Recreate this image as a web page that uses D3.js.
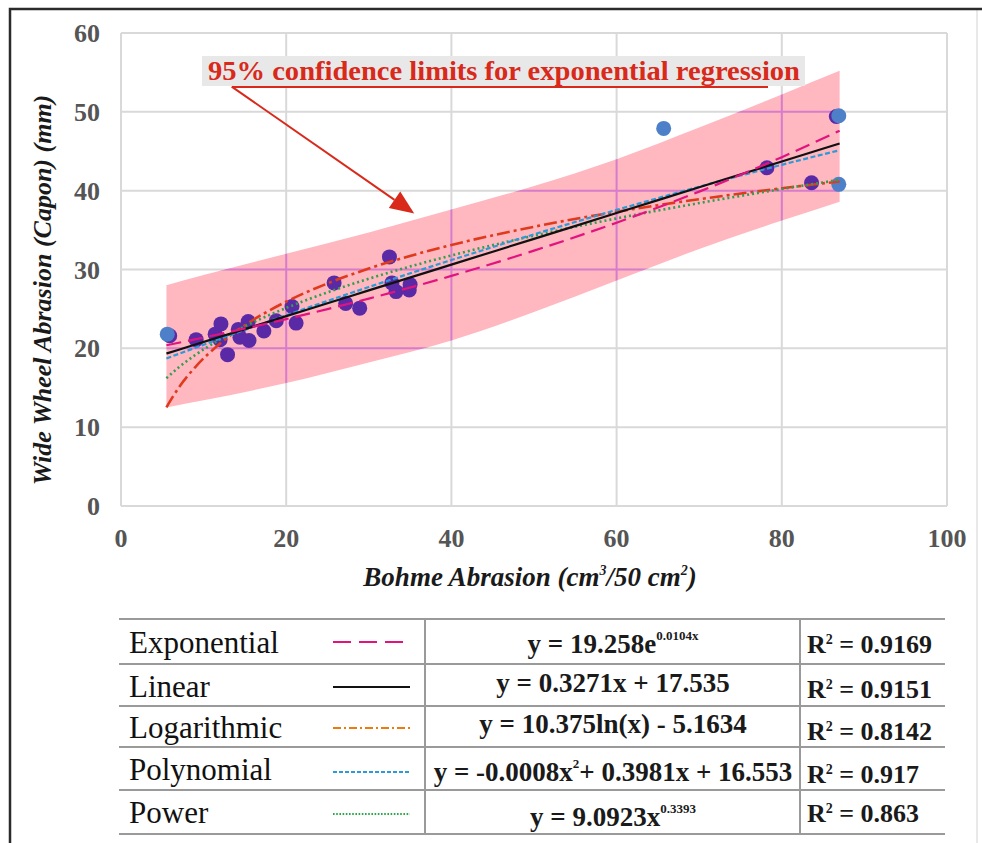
<!DOCTYPE html>
<html>
<head>
<meta charset="utf-8">
<script src="https://cdn.jsdelivr.net/npm/d3@7"></script>
<style>
  html, body { margin: 0; padding: 0; background: #fff; }
  svg { display: block; }
</style>
</head>
<body>
<div id="chart"></div>
<script>
// ---- data ----
var xTicks = [0, 20, 40, 60, 80, 100];
var yTicks = [0, 10, 20, 30, 40, 50, 60];

// measured points (purple series)
var purpleX = [5.9, 9.1, 11.4, 12.1, 12.0, 12.9, 14.2, 14.4, 15.4, 15.5, 17.3, 18.8, 20.7, 21.2, 25.8, 27.2, 28.9, 32.5, 32.8, 33.3, 34.9, 35.0, 78.2, 83.6, 86.6];
var purpleY = [21.6, 21.1, 21.8, 23.1, 21.1, 19.2, 22.4, 21.4, 23.4, 21.0, 22.2, 23.5, 25.3, 23.2, 28.3, 25.7, 25.1, 31.6, 28.3, 27.2, 27.4, 28.1, 42.9, 41.0, 49.4];
// blue points
var blueX = [5.6, 65.7, 86.9, 86.9];
var blueY = [21.8, 47.9, 49.5, 40.8];

// 95% confidence band (exponential regression)
var bandX     = [5.5, 10, 20, 30, 40, 50, 60, 70, 80, 87];
var bandUpper = [28.0, 29.3, 32.0, 34.7, 37.6, 40.6, 44.0, 48.0, 52.2, 55.2];
var bandLower = [12.5, 13.4, 15.6, 18.2, 21.0, 24.6, 28.6, 32.6, 36.2, 38.6];

// trend lines, values
var trendX = [5.5, 7, 9, 12, 15, 20, 25, 30, 40, 50, 60, 70, 80, 87];
var expY  = [20.39, 20.71, 21.15, 21.82, 22.51, 23.71, 24.98, 26.31, 29.19, 32.39, 35.94, 39.88, 44.25, 47.60];
var linY  = [19.34, 19.82, 20.48, 21.46, 22.44, 24.08, 25.71, 27.35, 30.62, 33.89, 37.16, 40.43, 43.70, 45.99];
var logY  = [12.52, 15.03, 17.63, 20.62, 22.93, 25.92, 28.23, 30.12, 33.11, 35.42, 37.32, 38.92, 40.30, 41.17];
var polyY = [18.72, 19.30, 20.07, 21.22, 22.34, 24.20, 26.01, 27.78, 31.20, 34.46, 37.56, 40.50, 43.28, 45.13];
var powY  = [16.21, 17.60, 19.16, 21.13, 22.79, 25.12, 27.10, 28.83, 31.79, 34.29, 36.48, 38.43, 40.21, 41.38];

var trendNames = ['Exponential', 'Linear', 'Logarithmic', 'Polynomial', 'Power'];
var trendEq = [
    [['y = 19.258e', 0], ['0.0104x', 1]],
    [['y = 0.3271x + 17.535', 0]],
    [['y = 10.375ln(x) - 5.1634', 0]],
    [['y = -0.0008x', 0], ['2', 1], ['+ 0.3981x + 16.553', 0]],
    [['y = 9.0923x', 0], ['0.3393', 1]]
];
var trendR2 = ['0.9169', '0.9151', '0.8142', '0.917', '0.863'];

var annotationText = '95% confidence limits for exponential regression';

// ---- drawing ----
var width = 982, height = 843;
var svg = d3.select('#chart').append('svg')
    .attr('width', width)
    .attr('height', height);

svg.append('rect').attr('width', width).attr('height', height).attr('fill', '#fff');

var x = d3.scaleLinear().domain([0, 100]).range([121, 947]);
var y = d3.scaleLinear().domain([0, 60]).range([506, 33]);

var serif = '"Liberation Serif", "Times New Roman", serif';

// outer frame
svg.append('line').attr('x1', 977).attr('y1', 9).attr('x2', 977).attr('y2', height)
    .attr('stroke', '#e2e2e2').attr('stroke-width', 1.5);
svg.append('path').attr('d', 'M10,' + height + ' L10,9 L' + width + ',9')
    .attr('fill', 'none').attr('stroke', '#2b2b2b').attr('stroke-width', 2.5);

// grid
function drawGrid(parent, color) {
    parent.selectAll('line.gx').data(xTicks).enter().append('line')
        .attr('class', 'gx')
        .attr('x1', function(d){ return x(d); }).attr('x2', function(d){ return x(d); })
        .attr('y1', y(0)).attr('y2', y(60))
        .attr('stroke', color).attr('stroke-width', 2);
    parent.selectAll('line.gy').data(yTicks).enter().append('line')
        .attr('class', 'gy')
        .attr('x1', x(0)).attr('x2', x(100))
        .attr('y1', function(d){ return y(d); }).attr('y2', function(d){ return y(d); })
        .attr('stroke', color).attr('stroke-width', 2);
}
drawGrid(svg.append('g'), '#d9d9d9');

// confidence band
var band = bandX.map(function(v, i){ return { x: v, lo: bandLower[i], hi: bandUpper[i] }; });
var area = d3.area()
    .x(function(d){ return x(d.x); })
    .y0(function(d){ return y(d.lo); })
    .y1(function(d){ return y(d.hi); })
    .curve(d3.curveMonotoneX);

svg.append('path').datum(band).attr('d', area).attr('fill', '#ffb7c0');

svg.append('clipPath').attr('id', 'bandclip')
    .append('path').datum(band).attr('d', area);
drawGrid(svg.append('g').attr('clip-path', 'url(#bandclip)'), '#d67ccb');

// axis tick labels
var tickG = svg.append('g')
    .style('font-family', serif).style('font-weight', 'bold')
    .style('font-size', '26px').attr('fill', '#555');

tickG.selectAll('text.yt').data(yTicks).enter().append('text')
    .attr('class', 'yt')
    .attr('x', 100)
    .attr('y', function(d){ return y(d) + 9; })
    .attr('text-anchor', 'end')
    .text(function(d){ return d; });

tickG.selectAll('text.xt').data(xTicks).enter().append('text')
    .attr('class', 'xt')
    .attr('x', function(d){ return x(d); })
    .attr('y', 547)
    .attr('text-anchor', 'middle')
    .text(function(d){ return d; });

// axis titles
svg.append('text')
    .attr('transform', 'translate(51,' + 290 + ') rotate(-90)')
    .attr('text-anchor', 'middle')
    .style('font-family', serif).style('font-weight', 'bold').style('font-style', 'italic')
    .style('font-size', '26px').attr('fill', '#1a1a1a')
    .text('Wide Wheel Abrasion (Capon) (mm)');

var xt = svg.append('text')
    .attr('x', 530).attr('y', 586)
    .attr('text-anchor', 'middle')
    .style('font-family', serif).style('font-weight', 'bold').style('font-style', 'italic')
    .style('font-size', '27px').attr('fill', '#1a1a1a');
xt.append('tspan').text('Bohme Abrasion (cm');
xt.append('tspan').attr('dy', -11).style('font-size', '14px').text('3');
xt.append('tspan').attr('dy', 11).text('/50 cm');
xt.append('tspan').attr('dy', -11).style('font-size', '14px').text('2');
xt.append('tspan').attr('dy', 11).text(')');

// points
svg.selectAll('circle.pp').data(purpleX).enter().append('circle')
    .attr('class', 'pp')
    .attr('cx', function(d){ return x(d); })
    .attr('cy', function(d, i){ return y(purpleY[i]); })
    .attr('r', 7.5)
    .attr('fill', '#5a2aa6');

svg.selectAll('circle.bp').data(blueX).enter().append('circle')
    .attr('class', 'bp')
    .attr('cx', function(d){ return x(d); })
    .attr('cy', function(d, i){ return y(blueY[i]); })
    .attr('r', 7.5)
    .attr('fill', '#4d80c8');

// trend lines
var trends = [
    { vals: expY,  color: '#e2137f', dash: '15,7',     w: 2.2, legColor: '#e2137f', legDash: '18,8' },
    { vals: linY,  color: '#111111', dash: null,       w: 2.2, legColor: '#111111', legDash: null },
    { vals: logY,  color: '#e03a1c', dash: '13,4,3,4', w: 2.6, legColor: '#ec7a10', legDash: '8,3,2,3' },
    { vals: polyY, color: '#2b9ad6', dash: '5,2.5',    w: 2.2, legColor: '#2b9ad6', legDash: '4,2' },
    { vals: powY,  color: '#2f9e4f', dash: '2,3',      w: 2.6, legColor: '#27a844', legDash: '1.6,1.6' }
];

var line = d3.line()
    .x(function(d){ return x(d[0]); })
    .y(function(d){ return y(d[1]); })
    .curve(d3.curveMonotoneX);

// draw order so the solid line sits among the dashed ones
[2, 4, 3, 1, 0].forEach(function(k){
    var t = trends[k];
    svg.append('path')
        .datum(trendX.map(function(v, i){ return [v, t.vals[i]]; }))
        .attr('d', line)
        .attr('fill', 'none')
        .attr('stroke', t.color)
        .attr('stroke-width', t.w)
        .attr('stroke-dasharray', t.dash);
});

// annotation
var ann = svg.append('g');
ann.append('rect')
    .attr('x', 202).attr('y', 56).attr('width', 603).attr('height', 30)
    .attr('fill', '#e8e8e8');
ann.append('text')
    .attr('x', 208).attr('y', 80)
    .attr('textLength', 592).attr('lengthAdjust', 'spacingAndGlyphs')
    .style('font-family', serif).style('font-weight', 'bold').style('font-size', '27px')
    .attr('fill', '#d8291b')
    .text(annotationText);
ann.append('line')
    .attr('x1', 232).attr('y1', 87).attr('x2', 768).attr('y2', 87)
    .attr('stroke', '#d8291b').attr('stroke-width', 2);

var a0 = [x(13.4), y(53.2)], a1 = [x(35.5), y(37.1)];
var ang = Math.atan2(a1[1] - a0[1], a1[0] - a0[0]);
var headLen = 24, headW = 10;
var bx = a1[0] - headLen * Math.cos(ang), by = a1[1] - headLen * Math.sin(ang);
ann.append('line')
    .attr('x1', a0[0]).attr('y1', a0[1]).attr('x2', bx).attr('y2', by)
    .attr('stroke', '#d8291b').attr('stroke-width', 2);
ann.append('path')
    .attr('d', 'M' + a1[0] + ',' + a1[1] +
        ' L' + (bx + headW * Math.sin(ang)) + ',' + (by - headW * Math.cos(ang)) +
        ' L' + (bx - headW * Math.sin(ang)) + ',' + (by + headW * Math.cos(ang)) + ' Z')
    .attr('fill', '#d8291b');

// ---- table ----
var rowLines = [619, 664, 706, 747, 790, 834];
var tbl = svg.append('g');
tbl.selectAll('line.rl').data(rowLines).enter().append('line')
    .attr('class', 'rl')
    .attr('x1', 119).attr('x2', 945)
    .attr('y1', function(d){ return d; }).attr('y2', function(d){ return d; })
    .attr('stroke', '#9a9a9a').attr('stroke-width', 2);
[425, 800].forEach(function(cx){
    tbl.append('line')
        .attr('x1', cx).attr('x2', cx).attr('y1', rowLines[0]).attr('y2', rowLines[5])
        .attr('stroke', '#9a9a9a').attr('stroke-width', 2);
});

var labelBase = [653, 697, 738, 780, 823];
var eqBase = [653, 692, 733, 781, 826];
var r2Base = [653, 698, 740, 783, 822];
var sampleY = [642, 687, 728, 772, 814];

trendNames.forEach(function(name, i){
    tbl.append('text')
        .attr('x', 129).attr('y', labelBase[i])
        .style('font-family', serif).style('font-size', '31px').attr('fill', '#111')
        .text(name);

    var t = trends[i];
    tbl.append('line')
        .attr('x1', 333).attr('x2', 410).attr('y1', sampleY[i]).attr('y2', sampleY[i])
        .attr('stroke', t.legColor).attr('stroke-width', 2.2)
        .attr('stroke-dasharray', t.legDash);

    var eq = tbl.append('text')
        .attr('x', 613).attr('y', eqBase[i])
        .attr('text-anchor', 'middle')
        .style('font-family', serif).style('font-weight', 'bold').style('font-size', '27px')
        .attr('fill', '#1a1a1a');
    var up = false;
    trendEq[i].forEach(function(p){
        var ts = eq.append('tspan').text(p[0]);
        if (p[1] && !up) { ts.attr('dy', -13).style('font-size', '13px'); up = true; }
        else if (!p[1] && up) { ts.attr('dy', 13); up = false; }
    });

    var r = tbl.append('text')
        .attr('x', 807).attr('y', r2Base[i])
        .style('font-family', serif).style('font-weight', 'bold').style('font-size', '26px')
        .attr('fill', '#1a1a1a');
    r.append('tspan').text('R');
    r.append('tspan').attr('dy', -9).style('font-size', '14px').text('2');
    r.append('tspan').attr('dy', 9).text(' = ' + trendR2[i]);
});
</script>
</body>
</html>
